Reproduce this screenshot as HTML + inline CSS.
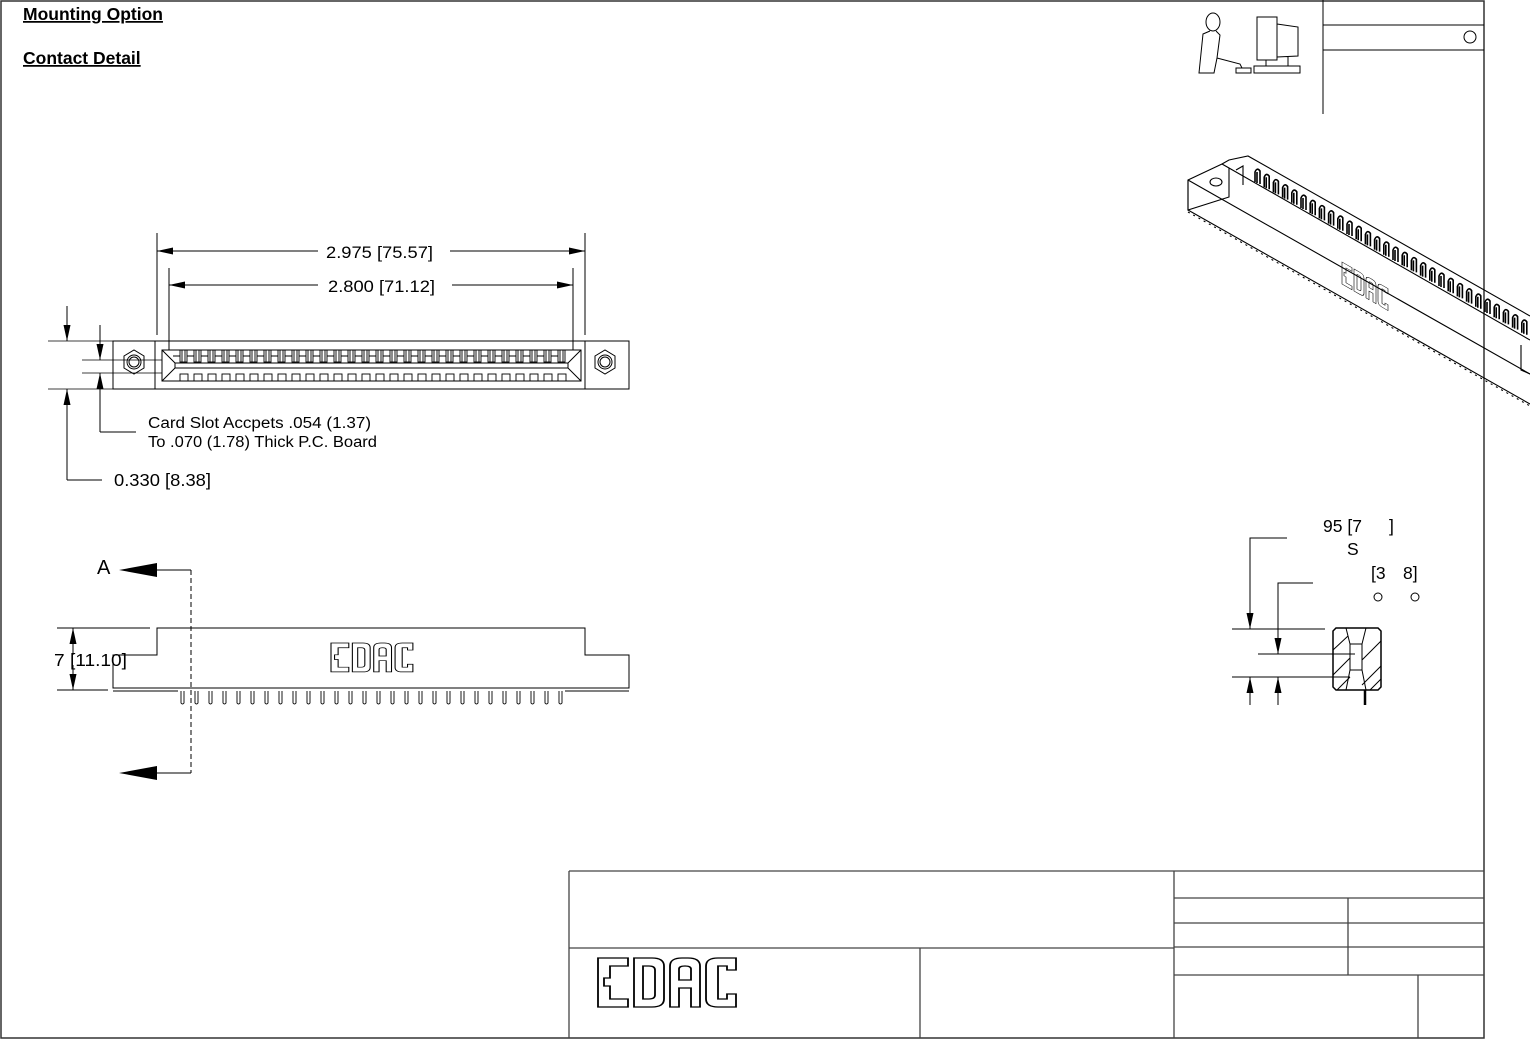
<!DOCTYPE html>
<html><head><meta charset="utf-8"><style>
html,body{margin:0;padding:0;background:#fff;}
svg{display:block;}
text{font-family:"Liberation Sans",sans-serif;}
</style></head><body>
<svg width="1530" height="1040" viewBox="0 0 1530 1040" xmlns="http://www.w3.org/2000/svg">
<defs>
<g id="edac" fill="none" stroke="#000" stroke-width="1.2">
 <path d="M0 0 H20 V8 H8 V20 H4 V28 H8 V41 H20 V49 H0 Z"/>
 <path d="M24 0 H36 Q44 0 44 8 V41 Q44 49 36 49 H24 Z M30 8 V41 H34 Q38 41 38 37 V12 Q38 8 34 8 Z"/>
 <path d="M48 49 V8 Q48 0 56 0 H60 Q68 0 68 8 V49 H62 V30 H54 V49 Z M54 22 H62 V11 Q62 8 58 8 Q54 8 54 11 Z"/>
 <path d="M72 8 Q72 0 80 0 H92 V12 H86 V8 H80 V41 H86 V36 H92 V49 H80 Q72 49 72 41 Z"/>
</g>
<marker id="ah" markerWidth="16" markerHeight="7" refX="16" refY="3.5" orient="auto" markerUnits="userSpaceOnUse"><path d="M0 0 L16 3.5 L0 7 Z" fill="#000"/></marker>
</defs>
<g fill="none" stroke="#000" stroke-width="1">
<path d="M1 1 H1484 V1038 H1 Z" stroke="#333" stroke-width="1.5"/>
<path d="M1323 0 V114 M1323 25 H1484 M1323 50 H1484"/>
<circle cx="1470" cy="37" r="6"/>
<ellipse cx="1213" cy="22" rx="7" ry="9"/>
<path d="M1210 31 L1203 34 L1199 73 L1214 73 L1217 58 L1240 64 L1242 68 L1236 68 L1236 73 L1251 73 L1251 68 L1242 68 M1217 58 L1220 35 L1216 31"/>
<path d="M1257 17 H1277 V60 H1257 Z M1277 24 L1298 27 V56 L1277 57 M1266 60 V66 M1288 57 V66 M1254 66 H1300 V73 H1254 Z"/>
<path d="M569 871 H1484 M569 871 V1038 M569 948 H1174 M1174 871 V1038 M920 948 V1038 M1174 898 H1484 M1174 923 H1484 M1174 947 H1484 M1174 975 H1484 M1348 898 V975 M1418 975 V1038" stroke="#444" stroke-width="1.3"/>
</g>
<use href="#edac" transform="translate(598,958) scale(1.5,1)"/>
<text x="23" y="20" font-size="17.5" font-weight="bold" text-decoration="underline">Mounting Option</text>
<text x="23" y="64" font-size="17.5" font-weight="bold" text-decoration="underline">Contact Detail</text>

<g fill="none" stroke="#000" stroke-width="1">
<rect x="113" y="341" width="516" height="48"/>
<path d="M155 341 V389 M585 341 V389"/>
<path d="M162 350 H581 V381 H162 Z M162 350 L175 363 H568 L581 350 M162 381 L175 368 H568 L581 381 M175 363 V368 M568 363 V368"/>
<polygon points="124,356 134,350 144,356 144,368 134,374 124,368"/>
<circle cx="134" cy="362" r="7"/><circle cx="134" cy="362" r="5"/>
<polygon points="595,356 605,350 615,356 615,368 605,374 595,368"/>
<circle cx="605" cy="362" r="7"/><circle cx="605" cy="362" r="5"/>
<path d="M157 233 V335 M585 233 V335 M169 268 V350 M573 268 V350"/>
<path d="M318 251 H157" marker-end="url(#ah)"/><path d="M450 251 H585" marker-end="url(#ah)"/>
<path d="M318 285 H169" marker-end="url(#ah)"/><path d="M452 285 H573" marker-end="url(#ah)"/>
<path d="M48 341 H113 M48 389 H113 M82 360 H162 M82 373 H162" stroke-width="0.8"/>
<path d="M67 306 V341" marker-end="url(#ah)"/>
<path d="M67 480 V389" marker-end="url(#ah)"/><path d="M67 480 H102"/>
<path d="M100 325 V360" marker-end="url(#ah)"/>
<path d="M100 432 V373" marker-end="url(#ah)"/><path d="M100 432 H136"/>
</g>
<g id="toprow" fill="none" stroke="#000" stroke-width="0.9"></g>
<text x="326" y="258" font-size="17" textLength="107" lengthAdjust="spacingAndGlyphs">2.975 [75.57]</text>
<text x="328" y="292" font-size="17" textLength="107" lengthAdjust="spacingAndGlyphs">2.800 [71.12]</text>
<text x="148" y="428" font-size="15.5" textLength="223" lengthAdjust="spacingAndGlyphs">Card Slot Accpets .054 (1.37)</text>
<text x="148" y="447" font-size="15.5" textLength="229" lengthAdjust="spacingAndGlyphs">To .070 (1.78) Thick P.C. Board</text>
<text x="114" y="486" font-size="17.5" textLength="97" lengthAdjust="spacingAndGlyphs">0.330 [8.38]</text>

<g fill="none" stroke="#000" stroke-width="1">
<path d="M113 688 V655 H157 V628 H585 V655 H629 V688 Z"/>
<path d="M113 691 H178 M565 691 H629"/>
<path d="M191 570 V773" stroke-dasharray="5,3"/>
<path d="M191 570 H157 M191 773 H157"/>
<path d="M57 628 H150 M57 690 H108"/>
<path d="M73 655 V628" marker-end="url(#ah)"/><path d="M73 665 V690" marker-end="url(#ah)"/>
</g>
<path d="M119 570 L157 563 L157 577 Z M119 773 L157 766 L157 780 Z" fill="#000"/>
<text x="97" y="574" font-size="20">A</text>
<text x="54" y="666" font-size="17.5" textLength="73" lengthAdjust="spacingAndGlyphs">7 [11.10]</text>
<use href="#edac" transform="translate(331,643) scale(0.89,0.59)"/>

<g fill="none" stroke="#000" stroke-width="1">
<path d="M1336 628 H1378 L1381 631 V687 L1378 690 H1336 L1333 687 V631 Z" stroke-width="1.5"/>
<path d="M1350 644 H1362 V670 H1350 Z M1346 628 L1350 644 M1366 628 L1362 644 M1350 670 L1346 690 M1362 670 L1366 690"/>
<path d="M1333 650 L1348 636 M1333 675 L1350 658 M1337 690 L1350 677 M1362 660 L1381 641 M1362 685 L1381 666 M1370 690 L1381 679"/>
<path d="M1365 690 V705" stroke-width="2.5"/>
<path d="M1232 629 H1325 M1258 654 H1355 M1232 677 H1350"/>
<path d="M1287 538 H1250 V629" marker-end="url(#ah)"/>
<path d="M1313 583 H1278 V654" marker-end="url(#ah)"/>
<path d="M1250 705 V677" marker-end="url(#ah)"/>
<path d="M1278 705 V677" marker-end="url(#ah)"/>
<circle cx="1378" cy="597" r="4"/><circle cx="1415" cy="597" r="4"/>
</g>
<text x="1323" y="532" font-size="17.5">95 [7</text><text x="1389" y="532" font-size="17.5">]</text>
<text x="1347" y="555" font-size="17.5">S</text>
<text x="1371" y="579" font-size="17.5">[3</text><text x="1403" y="579" font-size="17.5">8]</text>

<g fill="none" stroke="#000" stroke-width="1.1">
<path d="M1188 180 L1222 164 L1229 168 L1229 197 L1188 210 Z"/>
<path d="M1188 180 L1530 374 M1188 210 L1530 404 M1188 180 V210"/>
<path d="M1222 164 L1229 160 L1248 156 L1530 316 M1229 168 L1530 340 M1236 170 L1243 166 L1243 185"/>
<path d="M1521 345 V370 L1530 374"/>
<ellipse cx="1216" cy="182" rx="6" ry="4"/>
<path d="M1188 212 L1530 406" stroke-dasharray="2,4"/>
</g>
<g id="iso" stroke="#000" stroke-width="1.6" fill="none"></g>
<use href="#edac" transform="translate(1342,262) skewY(30) scale(0.5,0.45)" stroke-width="2"/>
<script>
var ns="http://www.w3.org/2000/svg",g=document.getElementById("toprow");
for(var i=0;i<28;i++){var x=180+i*14;
 var r=document.createElementNS(ns,"rect");r.setAttribute("x",x);r.setAttribute("y",350);r.setAttribute("width",7);r.setAttribute("height",12);g.appendChild(r);
 var l=document.createElementNS(ns,"path");l.setAttribute("d","M"+(x+2)+" 350 V362 M"+(x+5)+" 350 V362 M"+(x-7)+" 356 H"+x);g.appendChild(l);
 var b=document.createElementNS(ns,"rect");b.setAttribute("x",x);b.setAttribute("y",374);b.setAttribute("width",8);b.setAttribute("height",7);g.appendChild(b);
 var p=document.createElementNS(ns,"path");p.setAttribute("d","M"+(x+1)+" 691 V703 Q"+(x+2.5)+" 705 "+(x+4)+" 703 V691");g.appendChild(p);}
var iso=document.getElementById("iso"),d="";
for(var k=0;k<30;k++){var x0=1255+k*9.2,y0=170+k*5.2;
 d+="M"+x0+" "+(y0+12)+" V"+(y0+2)+" Q"+(x0+2)+" "+(y0-3)+" "+(x0+5)+" "+(y0+1)+" V"+(y0+14)+" M"+(x0+2)+" "+(y0+2)+" V"+(y0+13)+" ";}
var pp=document.createElementNS(ns,"path");pp.setAttribute("d",d);iso.appendChild(pp);
</script>
</svg>
</body></html>
